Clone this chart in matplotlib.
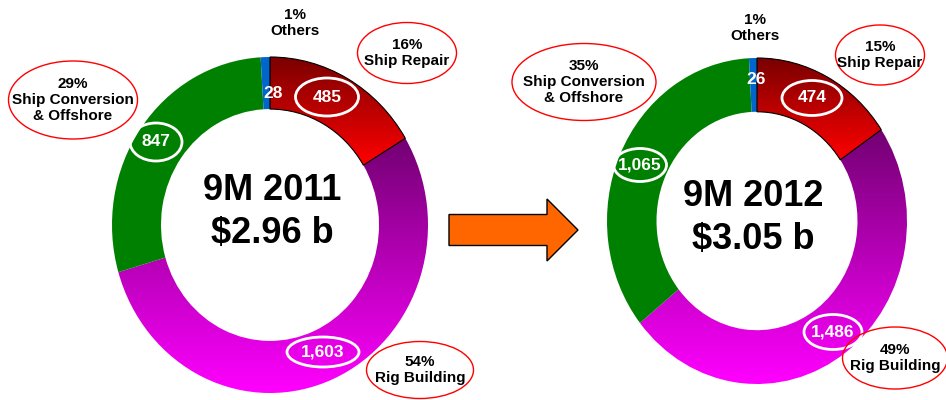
import numpy as np
import matplotlib
matplotlib.use("Agg")
import matplotlib.pyplot as plt
from matplotlib.colors import LinearSegmentedColormap
from matplotlib.patches import Ellipse, FancyArrow

# data (US$ m), clockwise from 12 o'clock
segments = ["Ship Repair", "Rig Building", "Ship Conversion\n& Offshore", "Others"]
vals_2011 = [485, 1603, 847, 28]
vals_2012 = [474, 1486, 1065, 26]
pct_2011 = ["16%", "54%", "29%", "1%"]
pct_2012 = ["15%", "49%", "35%", "1%"]
titles = ["9M 2011\n$2.96 b", "9M 2012\n$3.05 b"]

FONT = ["Liberation Sans", "DejaVu Sans"]
W, H = 946, 400

fig = plt.figure(figsize=(W / 100, H / 100), dpi=100)

red_cmap = LinearSegmentedColormap.from_list("r", ["#7a0000", "#ff0000"])
pur_cmap = LinearSegmentedColormap.from_list("p", ["#720072", "#ff00ff"])
flat = ["none", "none", "#008000", "#0066cc"]


def donut(cx, cy, rx, ry, vals, ring):
    ax = fig.add_axes([(cx - rx) / W, (H - cy - ry) / H, 2 * rx / W, 2 * ry / H])
    wedges, _ = ax.pie(vals, startangle=90, counterclock=False, radius=1,
                       colors=["w"] * 4, wedgeprops=dict(width=ring, lw=0))
    ax.set_aspect("auto")
    ax.axis("off")
    for w, c in zip(wedges, flat):
        w.set_facecolor(c)
    # vertical gradients: dark at top, bright at bottom
    grad = np.linspace(1, 0, 256).reshape(-1, 1)
    for w, cm in [(wedges[0], red_cmap), (wedges[1], pur_cmap)]:
        bb = w.get_path().get_extents()
        im = ax.imshow(grad, cmap=cm, origin="lower", aspect="auto",
                       extent=[bb.x0, bb.x1, bb.y0, bb.y1], vmin=0, vmax=1)
        im.set_clip_path(w)
    wedges[0].set_edgecolor("black")
    wedges[0].set_linewidth(0.8)
    wedges[0].set_zorder(5)
    wedges[0].set_facecolor("none")
    ax.set_xlim(-1, 1)
    ax.set_ylim(-1, 1)
    return ax


donut(270, 225, 158, 168, vals_2011, 0.31)
donut(757, 221, 150, 163, vals_2012, 0.33)

top = fig.add_axes([0, 0, 1, 1])
top.set_xlim(0, W)
top.set_ylim(H, 0)
top.axis("off")
top.patch.set_visible(False)

# centre titles
for (x, y), t in zip([(272, 212), (753, 218)], titles):
    top.text(x, y, t, ha="center", va="center", fontsize=26, fontweight="bold",
             family=FONT, linespacing=1.32)

# value labels inside ring (white)
val_pos = {
    2011: [(327, 97, 63, 38), (323, 352, 72, 30), (156, 142, 52, 38), (273, 93, 0, 0)],
    2012: [(812, 98, 60, 35), (833, 332, 58, 35), (640, 165, 53, 33), (756, 80, 0, 0)],
}
for vals, key in [(vals_2011, 2011), (vals_2012, 2012)]:
    for v, (x, y, ew, eh) in zip(vals, val_pos[key]):
        if ew:
            top.add_patch(Ellipse((x, y), ew, eh, fill=False, ec="white", lw=2))
        top.text(x, y, f"{v:,}", ha="center", va="center", color="white",
                 fontsize=12.5, fontweight="bold", family=FONT)

# outer category labels
out_pos = {
    2011: [(407, 53, 99, 61), (420, 370, 107, 57), (73, 100, 129, 78), (295, 23, 0, 0)],
    2012: [(880, 55, 89, 60), (895, 358, 105, 62), (584, 82, 144, 77), (755, 28, 0, 0)],
}
for pcts, key in [(pct_2011, 2011), (pct_2012, 2012)]:
    for p, name, (x, y, ew, eh) in zip(pcts, segments, out_pos[key]):
        if ew:
            top.add_patch(Ellipse((x, y), ew, eh, fill=False, ec="red", lw=1))
        top.text(x, y, f"{p}\n{name}", ha="center", va="center", color="black",
                 fontsize=11, fontweight="bold", family=FONT, linespacing=1.2)

top.add_patch(FancyArrow(449, 230, 129, 0, width=31, head_width=62, head_length=31,
                         length_includes_head=True, fc="#ff6600", ec="black", lw=1))

fig.savefig("out.png", dpi=100)
